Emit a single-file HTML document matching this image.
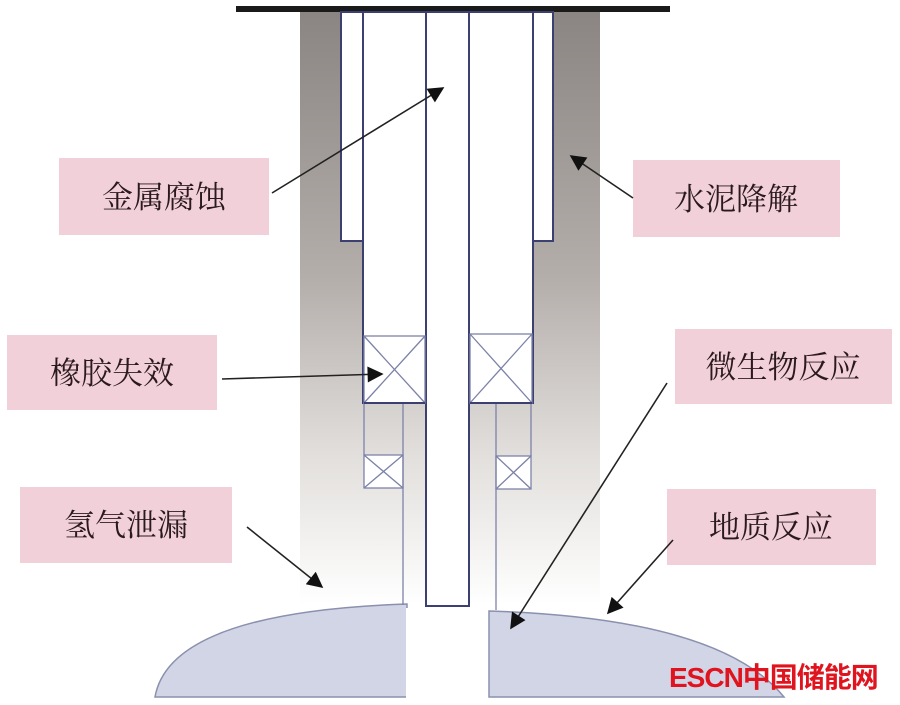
<!DOCTYPE html>
<html><head><meta charset="utf-8"><style>
html,body{margin:0;padding:0;background:#fff;width:900px;height:705px;overflow:hidden}
text{font-family:"Liberation Serif","Noto Serif CJK SC",serif;font-size:31px;fill:#2a1a1e}
</style></head><body>
<svg width="900" height="705" viewBox="0 0 900 705" xmlns="http://www.w3.org/2000/svg">
<defs>
<linearGradient id="g" x1="0" y1="0" x2="0" y2="1">
<stop offset="0" stop-color="#8a8582"/>
<stop offset="0.45" stop-color="#b4aeab"/>
<stop offset="0.75" stop-color="#e2dfdc"/>
<stop offset="1" stop-color="#ffffff"/>
</linearGradient>
<marker id="a" viewBox="0 0 10 10" refX="9" refY="5" markerWidth="20" markerHeight="16" markerUnits="userSpaceOnUse" orient="auto"><path d="M0,0L10,5L0,10z" fill="#111"/></marker>
</defs>
<rect x="300" y="10" width="300" height="595" fill="url(#g)"/>
<path d="M155,697 Q170,612 407,604 V697 Z" fill="#d1d5e6" stroke="#8a90ae" stroke-width="1.5"/>
<path d="M489,697 V611 Q720,618 784,697 Z" fill="#d1d5e6" stroke="#8a90ae" stroke-width="1.5"/>
<rect x="406" y="608" width="82" height="97" fill="#fff"/>
<rect x="236" y="6" width="434" height="6" fill="#1a1a1a"/>
<g stroke="#3c4070" stroke-width="2" fill="#fff">
<rect x="341" y="12" width="212" height="229"/>
<rect x="363" y="12" width="170" height="391"/>
<rect x="426" y="12" width="43" height="594"/>
</g>
<g stroke="#7c82a8" stroke-width="1.3" fill="#fff">
<rect x="364" y="336" width="61" height="67"/><path d="M364,336L425,403M425,336L364,403"/>
<rect x="470" y="334" width="62" height="69"/><path d="M470,334L532,403M532,334L470,403"/>
<rect x="364" y="455" width="39" height="33"/><path d="M364,455L403,488M403,455L364,488"/>
<rect x="496" y="456" width="35" height="33"/><path d="M496,456L531,489M531,456L496,489"/>
<path d="M364,403V455M403,403V605M531,403V456M496,403V610" fill="none"/>
</g>
<path d="M364,403H425M470,403H532" stroke="#3c4070" stroke-width="2"/>
<g fill="#f2d0d9">
<rect x="59" y="158" width="210" height="77"/>
<rect x="633" y="160" width="207" height="77"/>
<rect x="7" y="335" width="210" height="75"/>
<rect x="675" y="329" width="217" height="75"/>
<rect x="20" y="487" width="212" height="76"/>
<rect x="667" y="489" width="209" height="76"/>
</g>
<g text-anchor="middle">
<text x="164" y="208">金属腐蚀</text>
<text x="736" y="210">水泥降解</text>
<text x="112" y="384">橡胶失效</text>
<text x="783" y="378">微生物反应</text>
<text x="126" y="536">氢气泄漏</text>
<text x="771" y="538">地质反应</text>
</g>
<g stroke="#222" stroke-width="1.6" marker-end="url(#a)">
<line x1="272" y1="193" x2="443" y2="88"/>
<line x1="633" y1="198" x2="571" y2="156"/>
<line x1="222" y1="379" x2="382" y2="374"/>
<line x1="667" y1="383" x2="511" y2="628"/>
<line x1="247" y1="527" x2="322" y2="587"/>
<line x1="673" y1="540" x2="608" y2="613"/>
</g>
<text x="669" y="687" style="font-family:'Liberation Sans','Noto Sans CJK SC',sans-serif;font-weight:bold;font-size:28px;fill:#e0141e;letter-spacing:-1px">ESCN中国储能网</text>
</svg>
</body></html>
